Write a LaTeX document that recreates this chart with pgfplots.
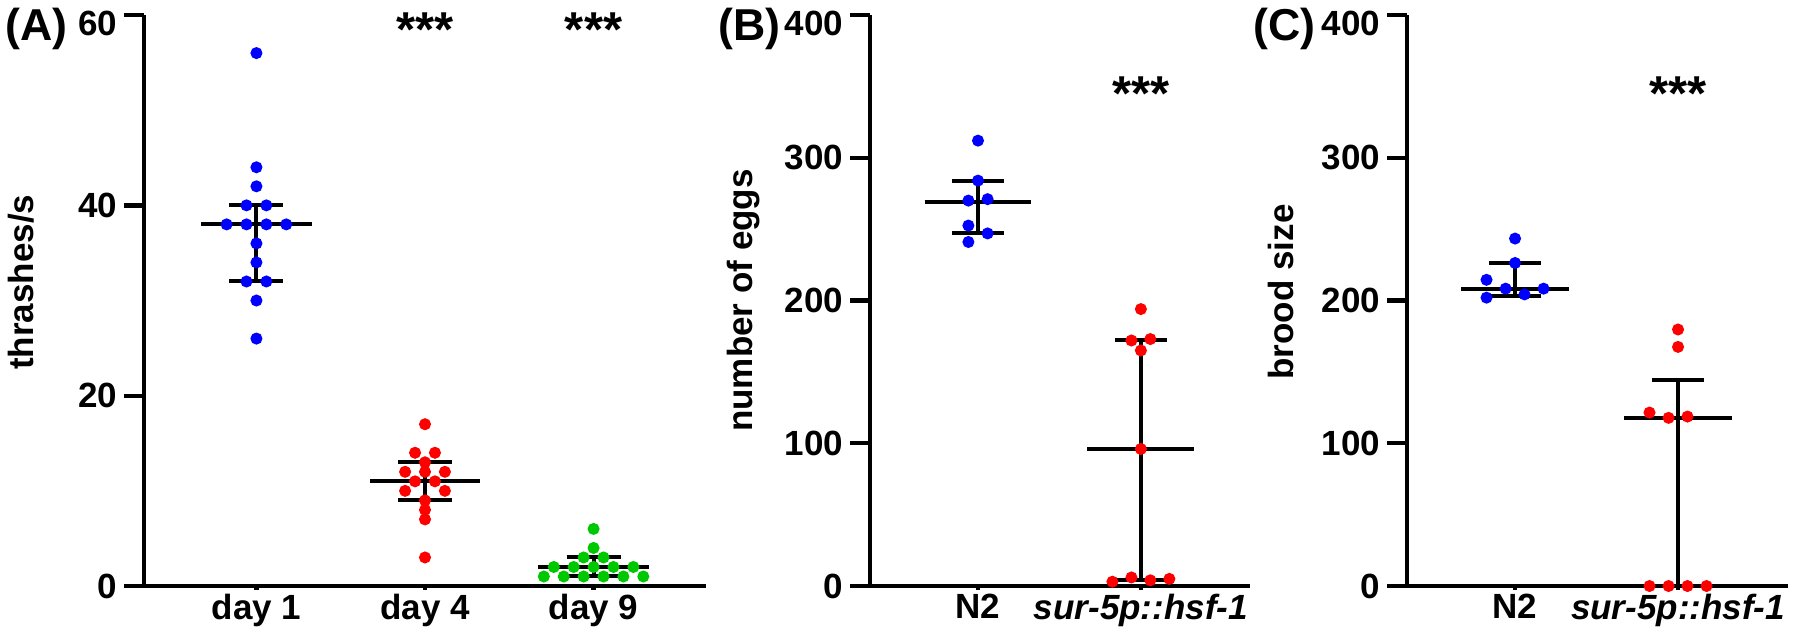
\documentclass[border=0pt]{standalone}
\usepackage{fontspec}
\setmainfont{Liberation Sans}
\usepackage{pgfplots}
\pgfplotsset{compat=1.18}
\definecolor{dotblue}{RGB}{0,0,255}
\definecolor{dotred}{RGB}{255,0,0}
\definecolor{dotgreen}{RGB}{0,200,0}
\pgfplotsset{
  panel/.style={
    scale only axis,
    anchor=south west,
    height=171.3pt,
    axis x line=bottom, axis y line=left,
    axis line style={line width=1.3pt},
    x axis line style={-}, y axis line style={-},
    tick align=outside,
    major tick length=6pt,
    every tick/.style={black, line width=1.3pt},
    xtick style={/pgfplots/major tick length=1.2pt},
    ymin=0,
    clip=false,
    /pgf/number format/assume math mode=true,
    tick label style={font=\bfseries\fontsize{10.5}{12}\selectfont},
    yticklabel style={inner sep=1.8pt},
    xticklabel style={yshift=7pt},
    extra y tick style={yticklabel style={yshift=-2.6pt}},
    ylabel style={font=\bfseries\fontsize{10.5}{12}\selectfont, anchor=center},
  },
  bar/.style={black, line width=1.2pt, forget plot},
  dots/.style={only marks, mark=*, mark size=1.6pt, mark options={draw=#1, fill=#1}},
}
\begin{document}
\begin{tikzpicture}
\useasboundingbox (0,0) rectangle (540pt,191.1pt);
% ---------------- Panel A ----------------
\begin{axis}[panel, at={(43.2pt,15.3pt)}, width=168.6pt,
  xmin=0.333, xmax=3.667, ymax=60, ytick={0,20,40}, extra y ticks={60},
  xtick={1,2,3}, xticklabels={day 1, day 4, day 9},
  ylabel={thrashes/s},
  ylabel style={at={(axis description cs:-0.219,0.532)}}]
\addplot[bar] coordinates {(0.673,38) (1.327,38)};
\addplot[bar] coordinates {(0.84,40) (1.16,40)};
\addplot[bar] coordinates {(0.84,32) (1.16,32)};
\addplot[bar] coordinates {(1,32) (1,40)};
\addplot[bar] coordinates {(1.673,11) (2.327,11)};
\addplot[bar] coordinates {(1.84,13) (2.16,13)};
\addplot[bar] coordinates {(1.84,9) (2.16,9)};
\addplot[bar] coordinates {(2,9) (2,13)};
\addplot[bar] coordinates {(2.673,2) (3.327,2)};
\addplot[bar] coordinates {(2.84,3) (3.16,3)};
\addplot[bar] coordinates {(2.84,1) (3.16,1)};
\addplot[bar] coordinates {(3,1) (3,3)};
\addplot[dots=dotblue] coordinates {(1,56) (1,44) (1,42) (0.941,40) (1.059,40) (0.823,38) (0.941,38) (1.059,38) (1.177,38) (1,36) (1,34) (0.941,32) (1.059,32) (1,30) (1,26)};
\addplot[dots=dotred] coordinates {(2,17) (1.941,14) (2.059,14) (2,13) (1.882,12) (2,12) (2.118,12) (1.941,11) (2.059,11) (1.882,10) (2.118,10) (2,9) (2,8) (2,7) (2,3)};
\addplot[dots=dotgreen] coordinates {(3,6) (3,4) (2.941,3) (3.059,3) (2.764,2) (2.882,2) (3,2) (3.118,2) (3.236,2) (2.705,1) (2.823,1) (2.941,1) (3.059,1) (3.177,1) (3.295,1)};
\node[anchor=base, inner sep=0, font=\bfseries\fontsize{14.7}{16}\selectfont] at (axis cs:2,56.7) {***};
\node[anchor=base, inner sep=0, font=\bfseries\fontsize{14.7}{16}\selectfont] at (axis cs:3,56.7) {***};
\end{axis}
% ---------------- Panel B ----------------
\begin{axis}[panel, at={(261pt,15.3pt)}, width=114pt,
  xmin=0.337, xmax=2.67, ymax=400, ytick={0,100,200,300}, extra y ticks={400},
  xtick={1,2}, xticklabels={N2, \textit{sur-5p::hsf-1}},
  ylabel={number of eggs},
  ylabel style={at={(axis description cs:-0.332,0.5)}}]
\addplot[bar] coordinates {(0.672,269) (1.328,269)};
\addplot[bar] coordinates {(0.84,284) (1.16,284)};
\addplot[bar] coordinates {(0.84,247) (1.16,247)};
\addplot[bar] coordinates {(1,247) (1,284)};
\addplot[bar] coordinates {(1.672,96) (2.328,96)};
\addplot[bar] coordinates {(1.84,172.3) (2.16,172.3)};
\addplot[bar] coordinates {(1.84,4.3) (2.16,4.3)};
\addplot[bar] coordinates {(2,4.3) (2,172.3)};
\addplot[dots=dotblue] coordinates {(1,312) (1,284) (0.941,270) (1.059,271) (0.941,252.5) (1.059,247) (0.941,241)};
\addplot[dots=dotred] coordinates {(2,194) (1.942,172) (2.058,173) (2,165) (2,96) (1.825,3) (1.942,6) (2.058,4) (2.175,5)};
\node[anchor=base, inner sep=0, font=\bfseries\fontsize{14.7}{16}\selectfont] at (axis cs:2,333) {***};
\end{axis}
% ---------------- Panel C ----------------
\begin{axis}[panel, at={(422.1pt,15.3pt)}, width=114.3pt,
  xmin=0.337, xmax=2.675, ymax=400, ytick={0,100,200,300}, extra y ticks={400},
  xtick={1,2}, xticklabels={N2, \textit{sur-5p::hsf-1}},
  ylabel={brood size},
  ylabel style={at={(axis description cs:-0.331,0.515)}}]
\addplot[bar] coordinates {(0.67,208.3) (1.33,208.3)};
\addplot[bar] coordinates {(0.838,226.3) (1.162,226.3)};
\addplot[bar] coordinates {(0.838,203.4) (1.162,203.4)};
\addplot[bar] coordinates {(1,203.4) (1,226.3)};
\addplot[bar] coordinates {(1.67,117.8) (2.33,117.8)};
\addplot[bar] coordinates {(1.838,144.4) (2.162,144.4)};
\addplot[bar] coordinates {(1.838,0) (2.162,0)};
\addplot[bar] coordinates {(2,0) (2,144.4)};
\addplot[dots=dotblue] coordinates {(0.825,214.5) (0.825,202) (1,243.4) (1,226.3) (0.942,208.3) (1.058,204.3) (1.175,208.3)};
\addplot[dots=dotred] coordinates {(2,179.7) (2,167.5) (1.825,121.5) (1.942,117.8) (2.058,118.7) (1.825,0) (1.942,0) (2.058,0) (2.175,0)};
\node[anchor=base, inner sep=0, font=\bfseries\fontsize{14.7}{16}\selectfont] at (axis cs:2,333) {***};
\end{axis}
% panel letters
\node[anchor=base west, inner sep=0, font=\bfseries\fontsize{13.4}{16}\selectfont] at (1.5pt,179.1pt) {(A)};
\node[anchor=base west, inner sep=0, font=\bfseries\fontsize{13.4}{16}\selectfont] at (215.4pt,179.1pt) {(B)};
\node[anchor=base west, inner sep=0, font=\bfseries\fontsize{13.4}{16}\selectfont] at (375.9pt,179.1pt) {(C)};
\end{tikzpicture}
\end{document}
